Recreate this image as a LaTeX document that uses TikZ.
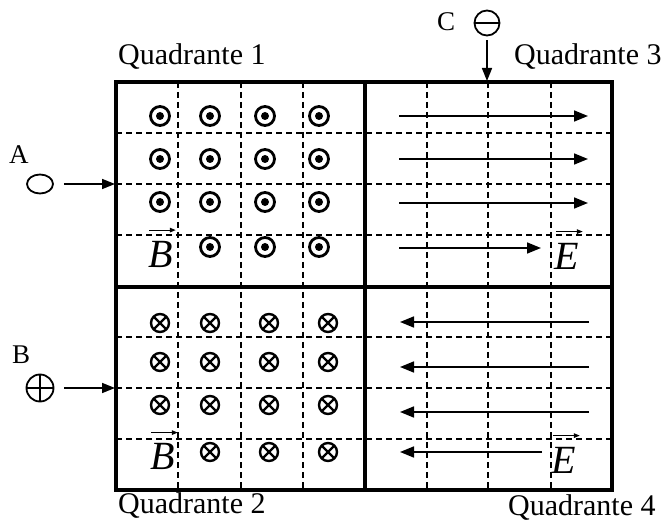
\documentclass[tikz,border=0pt]{standalone}
\usepackage{fontspec}
\setmainfont{Liberation Serif}
\usetikzlibrary{arrows.meta}
\usetikzlibrary{shapes.geometric}
\begin{document}
\begin{tikzpicture}[x=1pt,y=-1pt,
    cadre/.style={line width=3.5pt},
    grille/.style={line width=1.5pt,dash pattern=on 6pt off 4pt},
    champ/.style={line width=1.6pt,-{Triangle[length=14pt,width=11pt]}},
    injection/.style={line width=1.6pt,-{Triangle[length=13pt,width=10pt]}},
    vecteur/.style={line width=1.2pt,-{Triangle[length=6pt,width=4.5pt]}},
    particule/.style={draw,line width=1.8pt,inner sep=0pt},
    titre/.style={anchor=base west,inner sep=0pt,font=\fontsize{30}{36}\selectfont},
    lettre/.style={anchor=base west,inner sep=0pt,font=\fontsize{27}{32}\selectfont},
    grande/.style={anchor=base west,inner sep=0pt,font=\fontsize{40}{48}\selectfont\itshape}]
    \useasboundingbox (0,0) rectangle (667,521);
    % grille en pointilles
    \foreach \x in {178,241,303,427,488,551}
        \draw[grille] (\x,82) -- (\x,490);
    \foreach \y in {133,184,235,337,388,439}
        \draw[grille] (116,\y) -- (612,\y);
    % cadre et quadrants
    \draw[cadre] (116,82) rectangle (612,490);
    \draw[cadre] (365,82) -- (365,490) (116,287) -- (612,287);
    % quadrante 1 : champ B sortant
    \foreach \y in {116,159,202}
        \foreach \x in {160,210,265,319}
            {\draw[line width=2.8pt] (\x,\y) circle (9.5pt); \fill (\x,\y) circle (4pt);}
    \foreach \x in {210,265,319}
        {\draw[line width=2.8pt] (\x,247) circle (9.5pt); \fill (\x,247) circle (4pt);}
    % quadrante 2 : champ B entrant
    \foreach \y in {323,362,405}
        \foreach \x in {160,210,269,328}
            \draw[line width=2.4pt] (\x,\y) circle (9pt) (\x,\y) ++(45:9pt) -- ++(225:18pt) (\x,\y) ++(135:9pt) -- ++(-45:18pt);
    \foreach \x in {210,269,328}
        \draw[line width=2.4pt] (\x,452) circle (9pt) (\x,452) ++(45:9pt) -- ++(225:18pt) (\x,452) ++(135:9pt) -- ++(-45:18pt);
    % quadrante 3 et 4 : champ E
    \foreach \y in {116,159,203}
        \draw[champ] (399,\y) -- (588,\y);
    \draw[champ] (399,248) -- (541,248);
    \foreach \y in {322,367,412}
        \draw[champ] (589,\y) -- (400,\y);
    \draw[champ] (542,452) -- (400,452);
    % vecteurs
    \node[grande] (vecB1) at (148,268) {B};
    \draw[vecteur] ([xshift=1pt,yshift=11.5pt]vecB1.north west) -- ([xshift=3pt,yshift=11.5pt]vecB1.north east);
    \node[grande] (vecB2) at (150,469) {B};
    \draw[vecteur] ([xshift=1pt,yshift=10pt]vecB2.north west) -- ([xshift=3pt,yshift=10pt]vecB2.north east);
    \node[grande] (vecE3) at (554,270) {E};
    \draw[vecteur] ([xshift=2pt,yshift=12pt]vecE3.north west) -- ([xshift=4pt,yshift=12pt]vecE3.north east);
    \node[grande] (vecE4) at (551,473) {E};
    \draw[vecteur] ([xshift=2pt,yshift=11pt]vecE4.north west) -- ([xshift=4pt,yshift=11pt]vecE4.north east);
    % titres
    \node[titre] (q1) at (118,65) {Quadrante 1};
    \node[titre] (q3) at (514,65) {Quadrante 3};
    \node[titre] (q2) at (118,513) {Quadrante 2};
    \node[titre] (q4) at (508,515) {Quadrante 4};
    % particules
    \node[lettre] (nomA) at (9,164) {A};
    \node[particule,ellipse,minimum width=26pt,minimum height=19pt] (partA) at (40,184) {};
    \coordinate (entreeA) at (115,184);
    \draw[injection,shorten <=10pt] (partA) -- (entreeA);
    \node[lettre] (nomB) at (12,364) {B};
    \node[particule,circle,minimum size=27pt] (partB) at (40,388) {};
    \draw[line width=1.8pt] (partB.north) -- (partB.south) (partB.west) -- (partB.east);
    \coordinate (entreeB) at (115,388);
    \draw[injection,shorten <=10pt] (partB) -- (entreeB);
    \node[lettre] (nomC) at (437,31) {C};
    \node[particule,circle,minimum size=25pt] (partC) at (487,23) {};
    \draw[line width=1.8pt] (partC.west) -- (partC.east);
    \coordinate (entreeC) at (487,81);
    \draw[injection,shorten <=4pt] (partC) -- (entreeC);
\end{tikzpicture}
\end{document}
